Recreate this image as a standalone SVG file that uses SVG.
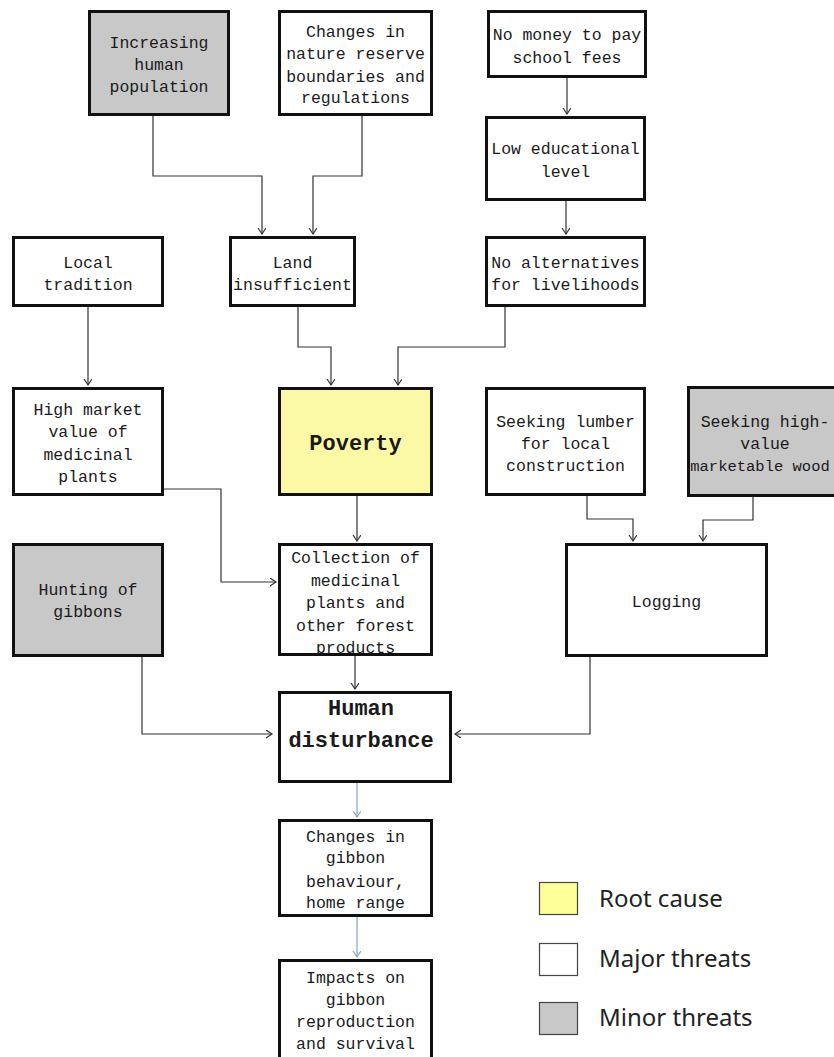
<svg xmlns="http://www.w3.org/2000/svg" width="834" height="1057" viewBox="0 0 834 1057">
<defs>
<style>
.box{stroke:#111;stroke-width:3;fill:#fff}
.gray{fill:#c8c8c8}
.yellow{fill:#fcf9a6}
.t{font-family:"Liberation Mono","DejaVu Sans Mono",monospace;font-size:16.5px;fill:#1a1a1a;text-anchor:middle}
.b{font-family:"Liberation Mono","DejaVu Sans Mono",monospace;font-size:22px;font-weight:bold;fill:#1a1a1a;text-anchor:middle}
.c{fill:none;stroke:#333;stroke-width:1.2}
.cb{fill:none;stroke:#8aa3c0;stroke-width:1.2}
.lg{font-family:"Noto Sans","Open Sans",sans-serif;font-size:24px;fill:#222}
.ls{stroke:#444;stroke-width:1.2}
</style>
<marker id="ah" markerUnits="userSpaceOnUse" markerWidth="10" markerHeight="10" refX="6" refY="4" orient="auto">
<path d="M0,0 L6,4 L0,8" fill="none" stroke="#333" stroke-width="1.2"/>
</marker>
<marker id="ahb" markerUnits="userSpaceOnUse" markerWidth="10" markerHeight="10" refX="6" refY="4" orient="auto">
<path d="M0,0 L6,4 L0,8" fill="none" stroke="#8aa3c0" stroke-width="1.2"/>
</marker>
</defs>
<rect width="834" height="1057" fill="#fff"/>

<g id="connectors">
<path class="c" marker-end="url(#ah)" d="M153,116 V176 H262 V234"/>
<path class="c" marker-end="url(#ah)" d="M362,116 V176 H313 V234"/>
<path class="c" marker-end="url(#ah)" d="M567,78 V114"/>
<path class="c" marker-end="url(#ah)" d="M566,201 V234"/>
<path class="c" marker-end="url(#ah)" d="M88,307 V385"/>
<path class="c" marker-end="url(#ah)" d="M298,307 V347 H331 V385"/>
<path class="c" marker-end="url(#ah)" d="M505,307 V347 H398 V385"/>
<path class="c" marker-end="url(#ah)" d="M164,489 H221 V582 H276"/>
<path class="c" marker-end="url(#ah)" d="M357,496 V541"/>
<path class="c" marker-end="url(#ah)" d="M587,496 V519 H633 V541"/>
<path class="c" marker-end="url(#ah)" d="M753,497 V520 H703 V541"/>
<path class="c" marker-end="url(#ah)" d="M355,656 V689"/>
<path class="c" marker-end="url(#ah)" d="M142,657 V734 H272"/>
<path class="c" marker-end="url(#ah)" d="M590,657 V734 H455"/>
<path class="cb" marker-end="url(#ahb)" d="M357,783 V817"/>
<path class="cb" marker-end="url(#ahb)" d="M357,917 V957"/>
</g>

<g id="n_population">
<rect class="box gray" x="89.5" y="11.5" width="139" height="103"/>
<text class="t" x="159" y="48">Increasing</text>
<text class="t" x="159" y="70">human</text>
<text class="t" x="159" y="92">population</text>
</g>
<g id="n_reserve">
<rect class="box" x="279.5" y="11.5" width="152" height="103"/>
<text class="t" x="355.5" y="37">Changes in</text>
<text class="t" x="355.5" y="59">nature reserve</text>
<text class="t" x="355.5" y="82">boundaries and</text>
<text class="t" x="355.5" y="103">regulations</text>
</g>
<g id="n_money">
<rect class="box" x="488.5" y="11.5" width="157" height="65"/>
<text class="t" x="567" y="40">No money to pay</text>
<text class="t" x="567" y="63">school fees</text>
</g>
<g id="n_education">
<rect class="box" x="486.5" y="117.5" width="158" height="82"/>
<text class="t" x="565.5" y="154">Low educational</text>
<text class="t" x="565.5" y="177">level</text>
</g>
<g id="n_alternatives">
<rect class="box" x="486.5" y="237.5" width="158" height="68"/>
<text class="t" x="565.5" y="268">No alternatives</text>
<text class="t" x="565.5" y="290">for livelihoods</text>
</g>
<g id="n_land">
<rect class="box" x="230.5" y="237.5" width="124" height="68"/>
<text class="t" x="292.5" y="268">Land</text>
<text class="t" x="292.5" y="290">insufficient</text>
</g>
<g id="n_tradition">
<rect class="box" x="13.5" y="237.5" width="149" height="68"/>
<text class="t" x="88" y="268">Local</text>
<text class="t" x="88" y="290">tradition</text>
</g>
<g id="n_market">
<rect class="box" x="13.5" y="388.5" width="149" height="106"/>
<text class="t" x="88" y="415">High market</text>
<text class="t" x="88" y="437">value of</text>
<text class="t" x="88" y="460">medicinal</text>
<text class="t" x="88" y="482">plants</text>
</g>
<g id="n_poverty">
<rect class="box yellow" x="279.5" y="388.5" width="152" height="106"/>
<text class="b" x="355.5" y="450">Poverty</text>
</g>
<g id="n_lumber">
<rect class="box" x="486.5" y="388.5" width="158" height="106"/>
<text class="t" x="565.5" y="427">Seeking lumber</text>
<text class="t" x="565.5" y="449">for local</text>
<text class="t" x="565.5" y="471">construction</text>
</g>
<g id="n_highvalue">
<rect class="box gray" x="688.5" y="387.5" width="153" height="108"/>
<text class="t" x="765" y="427">Seeking high-</text>
<text class="t" x="765" y="449">value</text>
<text class="t" x="760" y="471" style="font-size:15.5px">marketable wood</text>
</g>
<g id="n_collection">
<rect class="box" x="279.5" y="544.5" width="152" height="110"/>
<text class="t" x="355.5" y="563">Collection of</text>
<text class="t" x="355.5" y="586">medicinal</text>
<text class="t" x="355.5" y="608">plants and</text>
<text class="t" x="355.5" y="631">other forest</text>
<text class="t" x="355.5" y="653">products</text>
</g>
<g id="n_hunting">
<rect class="box gray" x="13.5" y="544.5" width="149" height="111"/>
<text class="t" x="88" y="595">Hunting of</text>
<text class="t" x="88" y="617">gibbons</text>
</g>
<g id="n_logging">
<rect class="box" x="566.5" y="544.5" width="200" height="111"/>
<text class="t" x="666.5" y="607">Logging</text>
</g>
<g id="n_human">
<rect class="box" x="279.5" y="692.5" width="171" height="89"/>
<text class="b" x="361" y="715">Human</text>
<text class="b" x="361" y="747">disturbance</text>
</g>
<g id="n_behaviour">
<rect class="box" x="279.5" y="820.5" width="152" height="95"/>
<text class="t" x="355.5" y="842">Changes in</text>
<text class="t" x="355.5" y="863">gibbon</text>
<text class="t" x="355.5" y="887">behaviour,</text>
<text class="t" x="355.5" y="908">home range</text>
</g>
<g id="n_impacts">
<rect class="box" x="279.5" y="960.5" width="152" height="110"/>
<text class="t" x="355.5" y="983">Impacts on</text>
<text class="t" x="355.5" y="1005">gibbon</text>
<text class="t" x="355.5" y="1027">reproduction</text>
<text class="t" x="355.5" y="1049">and survival</text>
</g>

<g id="legend">
<rect class="ls" x="539.5" y="882.5" width="38" height="32" fill="#ffff99"/>
<text class="lg" x="599" y="907">Root cause</text>
<rect class="ls" x="539.5" y="943.5" width="38" height="32" fill="#fff"/>
<text class="lg" x="599" y="967">Major threats</text>
<rect class="ls" x="539.5" y="1002.5" width="38" height="32" fill="#c8c8c8"/>
<text class="lg" x="599" y="1026">Minor threats</text>
</g>
</svg>
